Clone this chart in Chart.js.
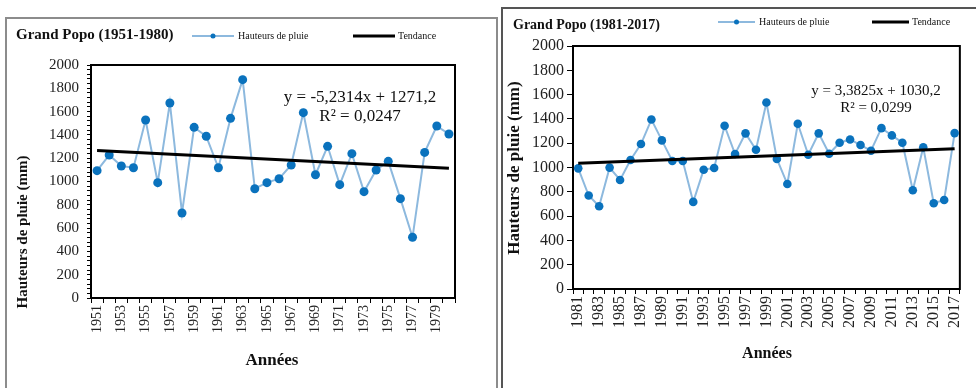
<!DOCTYPE html>
<html>
<head>
<meta charset="utf-8">
<script src="https://cdn.jsdelivr.net/npm/chart.js@4"></script>
<style>
body{margin:0;background:#fff;width:976px;height:388px;overflow:hidden;position:relative}
.panel{position:absolute;box-sizing:border-box;background:#fff}
#p1{left:5px;top:17px;width:493px;height:380px;border:2px solid #8c8c8c}
#p2{left:501px;top:7px;width:480px;height:390px;border:2px solid #555}
canvas{position:absolute;top:0}
</style>
</head>
<body>
<div class="panel" id="p1"></div>
<div class="panel" id="p2"></div>
<canvas id="c1" width="498" height="388" style="left:0"></canvas>
<canvas id="c2" width="476" height="388" style="left:500px"></canvas>
<script>
// Grand Popo 1951-1980
const years1 = ["1951","1952","1953","1954","1955","1956","1957","1958","1959","1960",
  "1961","1962","1963","1964","1965","1966","1967","1968","1969","1970",
  "1971","1972","1973","1974","1975","1976","1977","1978","1979","1980"];
const rain1 = [1093,1227,1133,1118,1528,990,1674,730,1465,1388,
  1118,1542,1874,938,990,1024,1142,1591,1058,1302,
  973,1239,913,1099,1173,853,521,1250,1476,1408];
const trend1 = [1266, 1114]; // debut / fin de la droite de tendance
const eq1 = ["y = -5,2314x + 1271,2", "R² = 0,0247"];

// Grand Popo 1981-2017
const years2 = ["1981","1982","1983","1984","1985","1986","1987","1988","1989","1990",
  "1991","1992","1993","1994","1995","1996","1997","1998","1999","2000",
  "2001","2002","2003","2004","2005","2006","2007","2008","2009","2010",
  "2011","2012","2013","2014","2015","2016","2017"];
const rain2 = [993,769,681,999,897,1062,1193,1395,1223,1053,
  1053,717,982,996,1343,1111,1281,1146,1535,1070,
  864,1360,1105,1281,1113,1204,1231,1185,1138,1324,
  1264,1204,813,1166,706,733,1283];
const trend2 = [1034, 1155];
const eq2 = ["y = 3,3825x + 1030,2", "R² = 0,0299"];

const yTicks = [0,200,400,600,800,1000,1200,1400,1600,1800,2000];

const SERIF = '"Liberation Serif", "DejaVu Serif", serif';
const LINE_BLUE = "#8db9de";
const DOT_BLUE = "#0a72bd";

// cadre, titre, legende, equation, titres des axes
const decor = {
  id: "decor",
  beforeDatasetsDraw(chart){
    const ctx = chart.ctx, a = chart.chartArea;
    ctx.save();
    ctx.strokeStyle = "#000"; ctx.lineWidth = 2;
    ctx.strokeRect(a.left, a.top, a.right - a.left, a.bottom - a.top);
    ctx.restore();
  },
  afterDraw(chart, args, o){
    const ctx = chart.ctx, a = chart.chartArea;
    ctx.save();
    ctx.fillStyle = "#111";
    ctx.textBaseline = "middle";
    // titre
    ctx.font = "bold " + o.titleSize + "px " + SERIF;
    ctx.textAlign = "left";
    ctx.fillText(o.title, o.titleX, o.titleY);
    // legende
    const L = o.leg;
    ctx.strokeStyle = LINE_BLUE; ctx.lineWidth = 2;
    ctx.beginPath(); ctx.moveTo(L.x1, L.y); ctx.lineTo(L.x1 + L.w, L.y); ctx.stroke();
    ctx.fillStyle = DOT_BLUE;
    ctx.beginPath(); ctx.arc(L.x1 + L.w / 2, L.y, 2.5, 0, Math.PI * 2); ctx.fill();
    ctx.fillStyle = "#111";
    ctx.font = L.size + "px " + SERIF;
    ctx.fillText(chart.data.datasets[0].label, L.x1 + L.w + 4, L.y);
    ctx.strokeStyle = "#000"; ctx.lineWidth = 3;
    ctx.beginPath(); ctx.moveTo(L.x2, L.y); ctx.lineTo(L.x2 + L.w, L.y); ctx.stroke();
    ctx.fillText(chart.data.datasets[1].label, L.x2 + L.w + 3, L.y);
    // equation
    ctx.textAlign = "center";
    ctx.font = o.eqSize + "px " + SERIF;
    ctx.fillText(o.eq[0], o.eqX, o.eqY);
    ctx.fillText(o.eq[1], o.eqX, o.eqY + o.eqGap);
    // titres des axes
    ctx.font = "bold " + o.axSize + "px " + SERIF;
    ctx.fillText("Années", o.xtX, o.xtY);
    ctx.translate(o.ytX, o.ytY);
    ctx.rotate(-Math.PI / 2);
    ctx.font = "bold " + o.ytSize + "px " + SERIF;
    ctx.fillText("Hauteurs de pluie (mm)", 0, 0);
    ctx.restore();
  }
};

function makeChart(id, labels, rain, trend, g){
  const last = labels.length - 1;
  const trendData = labels.map((_, i) => i === 0 ? trend[0] : (i === last ? trend[1] : null));
  return new Chart(document.getElementById(id), {
    type: "line",
    data: {
      labels: labels,
      datasets: [
        { label: "Hauteurs de pluie", data: rain, borderColor: LINE_BLUE, borderWidth: 2,
          pointRadius: g.dot, pointBackgroundColor: DOT_BLUE, pointBorderColor: DOT_BLUE,
          pointBorderWidth: 0, tension: 0, order: 1 },
        { label: "Tendance", data: trendData, spanGaps: true, borderColor: "#000",
          borderWidth: 3, pointRadius: 0, tension: 0, order: 0 }
      ]
    },
    options: {
      responsive: false,
      animation: false,
      layout: { padding: g.pad },
      plugins: { legend: { display: false }, tooltip: { enabled: false }, decor: g.decor },
      scales: {
        x: {
          offset: true,
          grid: { offset: true, drawOnChartArea: false, color: "#000", tickLength: 5, lineWidth: 1 },
          border: { display: false },
          ticks: {
            autoSkip: false, maxRotation: 90, minRotation: 90, padding: 2,
            color: "#222", font: { family: SERIF, size: g.xFont },
            callback: (v, i) => i % 2 === 0 ? labels[i] : ""
          },
          afterFit: s => { s.height = g.xh; }
        },
        y: {
          min: 0, max: 2000,
          afterBuildTicks: s => { s.ticks = g.yTicks.map(v => ({ value: v })); },
          grid: { drawOnChartArea: false, color: "#000", tickLength: g.yTick, lineWidth: 1 },
          border: { display: false },
          ticks: {
            autoSkip: false, padding: g.yPad, color: "#222",
            font: { family: SERIF, size: g.yFont },
            callback: v => v % 200 === 0 ? v : ""
          },
          afterFit: s => { s.width = g.yw; }
        }
      }
    },
    plugins: [decor]
  });
}

// graduations mineures du premier graphique (tous les 40 mm)
const minor1 = [];
for (let v = 0; v <= 2000; v += 40) minor1.push(v);

makeChart("c1", years1, rain1, trend1, {
  pad: { left: 0, top: 65, right: 43, bottom: 30 },
  xh: 60, yw: 91, dot: 4.5, xFont: 14, yFont: 15, yTick: 4, yPad: 8, yTicks: minor1,
  decor: { title: "Grand Popo (1951-1980)", titleSize: 15, titleX: 16, titleY: 35,
    leg: { x1: 192, x2: 353, w: 42, y: 36, size: 10 },
    eq: eq1, eqSize: 17, eqX: 360, eqY: 98, eqGap: 19,
    axSize: 17, xtX: 272, xtY: 361, ytSize: 15, ytX: 23, ytY: 232 }
});

makeChart("c2", years2, rain2, trend2, {
  pad: { left: 0, top: 46, right: 13, bottom: 39 },
  xh: 60, yw: 73, dot: 4.3, xFont: 16, yFont: 16, yTick: 6, yPad: 3, yTicks: yTicks,
  decor: { title: "Grand Popo (1981-2017)", titleSize: 14, titleX: 13, titleY: 25,
    leg: { x1: 218, x2: 372, w: 37, y: 22, size: 10 },
    eq: eq2, eqSize: 15, eqX: 376, eqY: 91, eqGap: 17,
    axSize: 16, xtX: 267, xtY: 354, ytSize: 17, ytX: 15, ytY: 168 }
});
</script>
</body>
</html>
